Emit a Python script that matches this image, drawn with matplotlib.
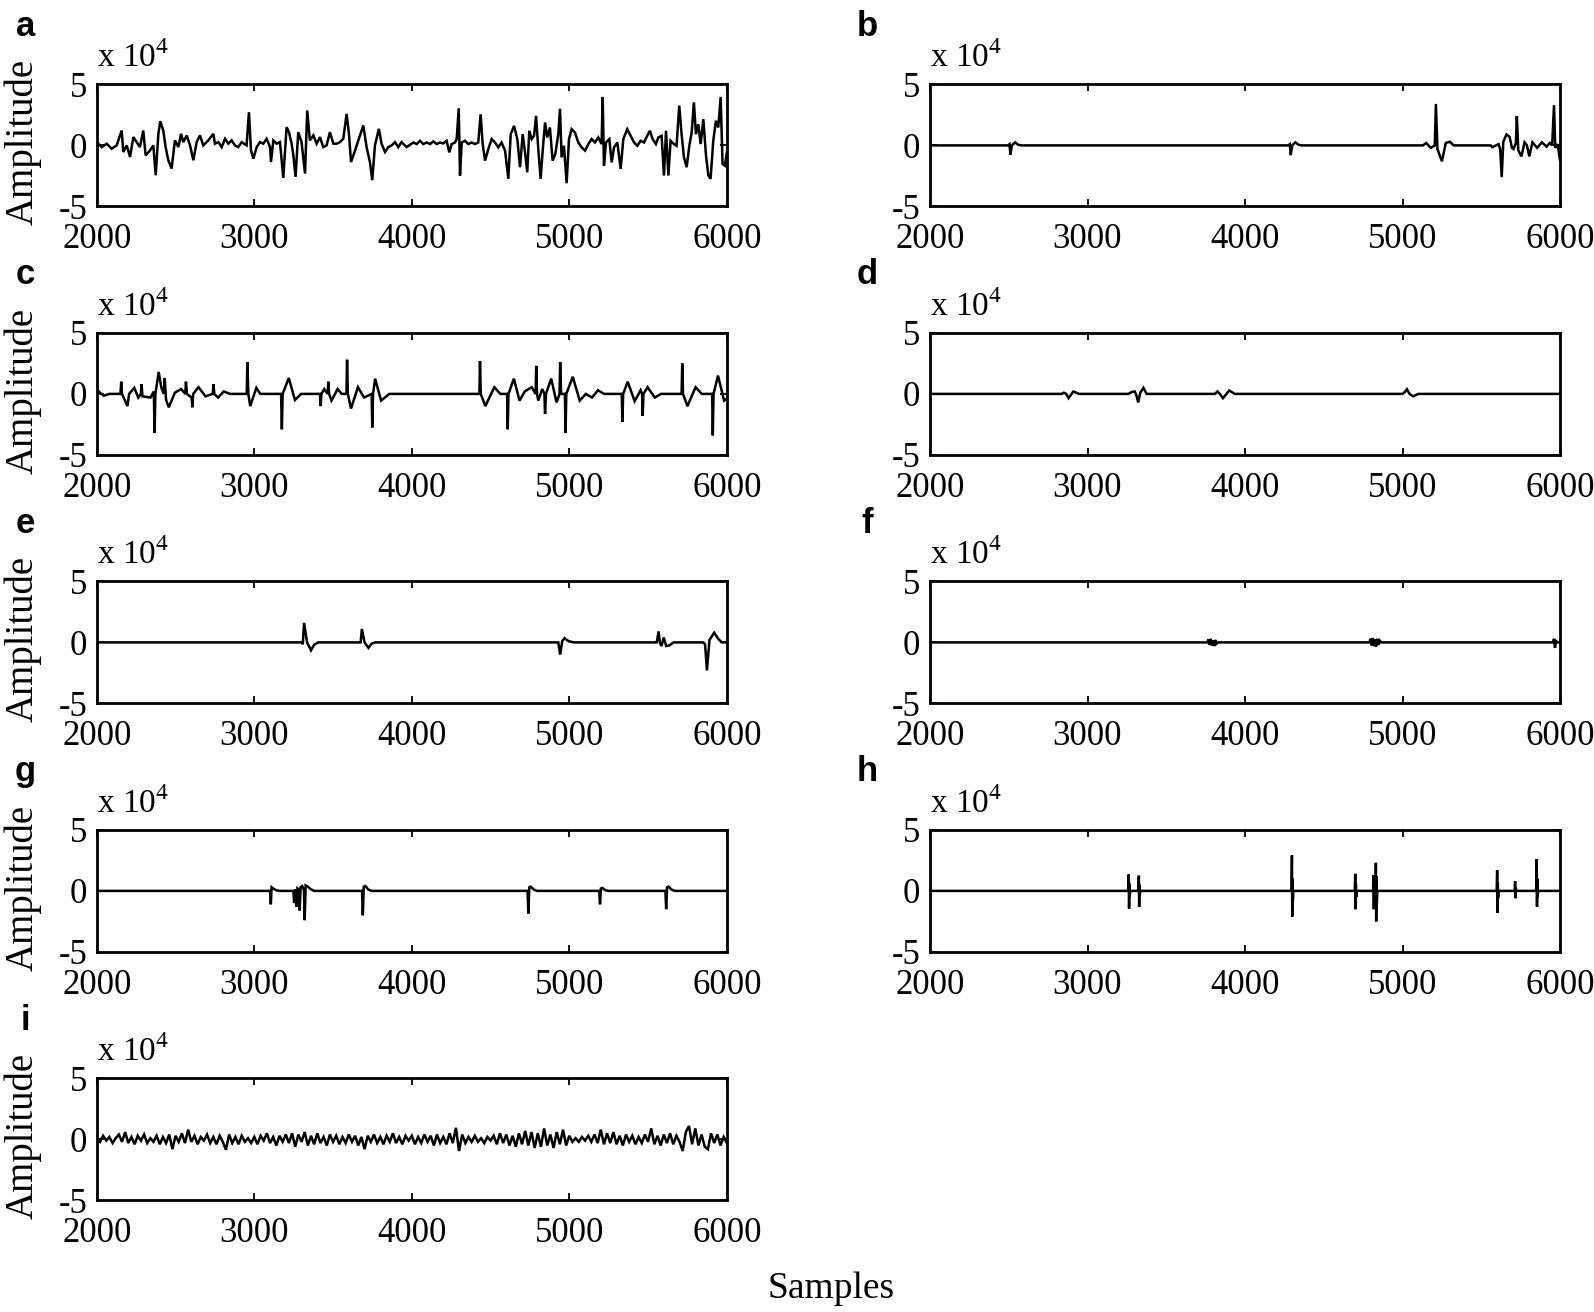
import numpy as np
import matplotlib
matplotlib.use('Agg')
import matplotlib.pyplot as plt

plt.rcParams['font.family'] = 'Liberation Serif'
plt.rcParams['mathtext.fontset'] = 'custom'
plt.rcParams['mathtext.rm'] = 'Liberation Serif'
plt.rcParams['axes.unicode_minus'] = False

# ---- data: (sample, amplitude in units of 1e4) ----
a_pts = [
    (2000, 0.27), (2031, -0.14), (2063, 0.14), (2094, -0.27), (2126, 0.0), (2158, 1.22), (2168, -0.54), (2190, 0.0),
    (2211, -0.95), (2232, 0.68), (2253, 0.27), (2274, -0.14), (2295, 1.22), (2310, -0.82), (2338, -0.41), (2359, 0.0),
    (2374, -2.45), (2391, 0.95), (2403, 1.98), (2422, 1.22), (2437, -0.14), (2454, -1.22), (2475, -1.9), (2496, 0.41),
    (2518, -0.14), (2535, 0.95), (2549, 0.27), (2571, 0.82), (2592, 0.0), (2613, -1.22), (2634, 0.27), (2655, 0.82),
    (2676, 0.0), (2708, 0.41), (2740, 0.95), (2750, 0.14), (2772, 0.27), (2793, -0.14), (2814, 0.54), (2835, 0.14),
    (2856, 0.41), (2877, 0.0), (2898, -0.14), (2920, 0.27), (2951, 0.0), (2966, 2.72), (2979, -0.41), (2994, -1.09),
    (3015, -0.14), (3036, 0.27), (3057, 0.14), (3078, 0.54), (3100, -0.14), (3106, -1.36), (3121, 0.41), (3142, 0.14),
    (3163, 0.27), (3184, -2.66), (3205, 1.5), (3220, 1.09), (3237, 0.14), (3248, -0.82), (3262, -2.58), (3279, 1.09),
    (3300, 0.27), (3322, -2.31), (3336, 2.86), (3353, 0.41), (3375, 0.82), (3396, 0.14), (3417, 0.68), (3438, -0.14),
    (3459, 0.0), (3480, 1.09), (3502, 0.14), (3523, 0.14), (3544, 0.27), (3565, 0.54), (3586, 2.58), (3601, 0.95),
    (3614, -1.36), (3629, -0.82), (3650, 0.0), (3671, 0.82), (3692, 1.63), (3713, -0.14), (3734, -1.36), (3749, -2.85),
    (3766, 0.0), (3791, 1.36), (3808, 0.14), (3830, -0.54), (3851, -0.14), (3872, 0.0), (3893, 0.27), (3914, -0.14),
    (3935, 0.27), (3967, -0.14), (3999, 0.14), (4010, 0.24), (4031, 0.11), (4052, 0.38), (4073, 0.11), (4094, 0.24),
    (4116, 0.11), (4137, 0.33), (4158, 0.11), (4179, 0.24), (4200, 0.16), (4221, 0.38), (4238, -0.57), (4253, 0.11),
    (4274, 0.24), (4285, 0.52), (4298, 3.04), (4306, -2.47), (4317, 0.24), (4338, 0.38), (4359, 0.11), (4380, 0.24),
    (4401, 0.11), (4422, 0.24), (4437, 2.55), (4450, 0.11), (4465, -1.25), (4486, -0.3), (4507, 0.52), (4528, 0.24),
    (4549, -0.16), (4570, 0.24), (4592, -0.43), (4613, -2.74), (4628, 0.92), (4649, 1.6), (4670, 0.52), (4687, -1.79),
    (4704, 0.92), (4719, -0.57), (4733, -2.2), (4746, 1.2), (4761, 0.52), (4776, 0.79), (4789, 2.42), (4803, -0.3),
    (4818, -2.74), (4831, -0.43), (4846, 1.88), (4860, 0.65), (4877, 1.47), (4894, -1.25), (4911, -0.71), (4930, 0.92),
    (4941, 3.0), (4951, -0.98), (4966, -0.03), (4983, -3.1), (4998, 0.52), (5015, 1.33), (5036, 1.06), (5057, 0.24),
    (5078, -0.16), (5100, -0.43), (5121, 0.11), (5142, 0.52), (5163, 0.24), (5184, 0.65), (5205, 0.11), (5212, 3.97),
    (5220, -1.66), (5233, 0.24), (5254, 0.52), (5269, -1.39), (5284, -0.16), (5305, 0.24), (5326, -1.93), (5343, 0.52),
    (5368, 1.33), (5389, 0.79), (5411, 0.24), (5432, -0.03), (5453, 0.38), (5474, 0.24), (5495, 0.79), (5512, 1.2),
    (5529, 0.52), (5550, 0.11), (5565, 0.65), (5586, 0.79), (5601, -2.47), (5614, 1.2), (5629, -2.47), (5643, 0.38),
    (5664, 0.11), (5681, -0.03), (5698, 3.26), (5713, 0.92), (5728, -0.98), (5745, -1.79), (5762, -0.03), (5777, 1.06),
    (5791, 3.53), (5804, 0.92), (5819, 1.74), (5834, 0.11), (5851, 2.15), (5868, -0.84), (5883, -2.47), (5897, -2.74),
    (5914, 0.38), (5931, 2.02), (5946, 1.47), (5961, 3.97), (5973, -1.52), (5988, -1.66), (6000, -0.6),
]

b_pts = [
    (2000, 0), (2495, 0), (2505, 0.1), (2510, -0.75), (2520, 0), (2540, 0.25), (2560, 0.05), (2580, 0),
    (4275, 0), (4285, 0.1), (4290, -0.8), (4300, 0), (4320, 0.25), (4340, 0.05), (4360, 0),
    (5130, 0), (5150, 0.2), (5180, -0.2), (5205, 0), (5212, 3.4), (5222, -0.3), (5250, -1.3), (5275, 0.2),
    (5300, 0.3), (5325, 0), (5560, 0), (5570, -0.15), (5610, 0.1), (5620, -0.3), (5630, -2.6), (5640, 0.3),
    (5660, 0.9), (5680, 0.7), (5695, -0.2), (5705, -0.3), (5720, 0.2), (5726, 2.4), (5735, -0.4), (5755, -0.9),
    (5775, 0.25), (5790, 0.0), (5805, -0.9), (5825, 0.25), (5855, -0.2), (5885, 0.25), (5915, -0.1), (5935, 0.2),
    (5950, 0.0), (5962, 3.3), (5970, -0.2), (5985, 0.1), (6000, -1.2),
]

c_pts = [
    (2000, 0.4), (2020, 0.1), (2044, -0.15), (2080, 0.0), (2150, 0.0), (2155, 1.0), (2160, 0.0), (2195, -1.0),
    (2205, 0.0), (2238, 0.5), (2263, -0.3), (2280, 0.0), (2284, 0.8), (2290, -0.2), (2341, -0.3), (2362, 0.2),
    (2367, -3.2), (2372, 0.0), (2393, 1.8), (2410, 0.5), (2425, 0.0), (2431, 1.3), (2440, -0.5), (2457, -1.1),
    (2496, 0.1), (2535, 0.4), (2562, 0.0), (2566, 1.0), (2572, 0.0), (2602, -0.3), (2607, -1.1), (2612, 0.0),
    (2646, 0.55), (2690, -0.2), (2736, 0.0), (2741, 0.8), (2746, 0.0), (2770, -0.3), (2806, 0.2), (2845, 0.0),
    (2952, 0.0), (2956, 2.6), (2962, 0.0), (2974, -1.0), (3013, 0.5), (3038, 0.0), (3170, 0.0), (3175, -2.9),
    (3180, 0.0), (3219, 1.3), (3258, -0.5), (3297, 0.0), (3417, 0.0), (3421, -1.0), (3426, 0.0), (3444, 0.4),
    (3466, 0.0), (3470, 1.0), (3475, 0.0), (3490, -0.55), (3529, 0.4), (3555, 0.0), (3585, 0.0), (3589, 2.8),
    (3594, 0.0), (3614, -1.2), (3658, 0.55), (3697, -0.3), (3745, 0.0), (3749, -2.75), (3754, 0.0), (3767, 1.25),
    (3805, -0.55), (3857, 0.0), (4429, 0.0), (4433, 2.7), (4438, 0.0), (4467, -1.0), (4524, 0.55), (4562, 0.0),
    (4605, 0.0), (4609, -2.9), (4614, 0.0), (4648, 1.25), (4684, -0.55), (4717, 0.2), (4761, 0.55), (4786, 0.0),
    (4790, 2.3), (4795, 0.0), (4803, -0.55), (4828, 0.4), (4842, 0.0), (4846, -1.65), (4852, 0.0), (4885, 1.25),
    (4919, -0.7), (4938, 0.0), (4942, 2.6), (4948, 0.0), (4972, 0.0), (4976, -3.2), (4981, 0.0), (5022, 1.4),
    (5066, -0.55), (5105, 0.0), (5144, -0.3), (5182, 0.3), (5221, 0.0), (5333, 0.0), (5337, -2.3), (5342, 0.0),
    (5371, 1.0), (5415, -0.6), (5453, 0.3), (5462, 0.0), (5466, -1.8), (5471, 0.0), (5497, 0.55), (5543, -0.3),
    (5582, 0.0), (5713, 0.0), (5717, 2.5), (5722, 0.0), (5750, -1.0), (5802, 0.55), (5841, 0.0), (5907, 0.0),
    (5911, -3.4), (5916, 0.0), (5944, 1.5), (5983, -0.55), (6000, -0.4),
]

d_pts = [
    (2000, 0), (2835, 0), (2850, 0.1), (2865, 0.0), (2880, -0.35), (2910, 0.2), (2945, 0),
    (3260, 0), (3280, 0.15), (3300, 0.2), (3310, -0.1), (3322, -0.7), (3335, 0.1), (3355, 0.5), (3375, 0),
    (3810, 0), (3825, 0.2), (3840, 0.0), (3860, -0.35), (3900, 0.28), (3935, 0),
    (5000, 0), (5015, 0.15), (5028, 0.38), (5045, 0.0), (5067, -0.2), (5100, 0), (6000, 0),
]

e_pts = [
    (2000, 0), (3300, 0), (3308, -0.15), (3316, 1.6), (3335, 0.0), (3360, -0.65), (3380, -0.2), (3405, 0),
    (3675, 0), (3683, 1.1), (3700, 0.0), (3725, -0.45), (3745, -0.1), (3768, 0),
    (4930, 0), (4942, -1.0), (4955, 0.1), (4970, 0.35), (4995, 0.1), (5030, 0),
    (5555, 0), (5567, 0.9), (5575, 0.0), (5585, -0.3), (5600, 0.4), (5615, -0.3), (5635, -0.25), (5662, 0),
    (5850, 0), (5862, -0.15), (5874, -2.3), (5890, 0.2), (5920, 0.8), (5945, 0.3), (5968, 0.0), (6000, 0),
]

f_pts = [
    (2000, 0), (3760, 0), (3768, 0.25), (3775, -0.2), (3782, 0.3), (3790, -0.25), (3797, 0.15), (3805, -0.3),
    (3812, 0.2), (3820, -0.1), (3830, 0),
    (4790, 0), (4797, 0.3), (4804, -0.25), (4811, 0.35), (4818, -0.3), (4825, 0.25), (4832, -0.35), (4840, 0.3),
    (4847, -0.2), (4855, 0.15), (4865, 0),
    (5955, 0), (5962, 0.3), (5968, -0.45), (5975, 0.1), (5985, 0), (6000, 0),
]

g_pts = [
    (2000, 0), (3100, 0), (3105, -1.1), (3110, 0.3), (3120, 0.2), (3140, 0.05), (3160, 0),
    (3248, 0), (3253, -1.0), (3258, 0.1), (3264, 0.0), (3269, -1.3), (3274, 0.2), (3283, 0.1), (3288, -1.6),
    (3294, 0.3), (3304, 0.4), (3315, 0.1), (3320, -2.4), (3326, 0.45), (3340, 0.35), (3357, 0.15), (3380, 0),
    (3684, 0), (3689, -2.0), (3695, 0.35), (3705, 0.4), (3725, 0.1), (3745, 0),
    (4735, 0), (4740, -1.85), (4746, 0.3), (4755, 0.35), (4775, 0.1), (4795, 0),
    (5190, 0), (5195, -1.1), (5201, 0.2), (5210, 0.25), (5230, 0.05), (5250, 0),
    (5610, 0), (5615, -1.5), (5621, 0.3), (5630, 0.35), (5650, 0.1), (5670, 0), (6000, 0),
]

h_pts = [
    (2000, 0),
    (3259, 0), (3262, 1.35), (3264, -1.45), (3266, 0.6), (3268, -0.5), (3271, 0),
    (3323, 0), (3326, 1.25), (3328, -1.3), (3330, 0.5), (3332, -0.4), (3335, 0),
    (4295, 0), (4298, 2.9), (4300, -2.1), (4302, 1.0), (4304, -0.8), (4307, 0),
    (4697, 0), (4700, 1.4), (4702, -1.5), (4704, 0.6), (4706, -0.5), (4709, 0),
    (4813, 0), (4816, 1.3), (4818, -1.5), (4820, 0.5), (4823, -0.3), (4828, 0), (4831, 2.3), (4833, -2.5),
    (4835, 1.2), (4837, -1.0), (4840, 0),
    (5598, 0), (5601, 1.7), (5603, -1.8), (5605, 0.7), (5607, -0.6), (5610, 0),
    (5712, 0), (5715, 0.8), (5717, -0.6), (5719, 0.3), (5722, 0),
    (5849, 0), (5852, 2.6), (5854, -1.3), (5856, 1.0), (5858, -0.5), (5861, 0),
    (6000, 0),
]

# panel i: residual noise, one value every 20 samples from 2000 to 6000
i_step = 20
i_amp = [
    0.1, -0.2, 0.3, -0.1, 0.2, -0.3, 0.1, 0.4, -0.2, 0.6,
    -0.3, 0.2, -0.4, 0.3, -0.1, 0.4, -0.3, 0.1, -0.2, 0.3,
    -0.4, 0.2, -0.3, 0.4, -0.8, 0.3, -0.2, 0.5, -0.3, 0.8,
    -0.2, 0.3, -0.4, 0.2, -0.1, 0.4, -0.3, 0.2, -0.4, 0.3,
    -0.2, -0.85, 0.4, -0.3, 0.2, -0.4, 0.3, -0.2, 0.1, -0.3,
    0.2, -0.4, 0.3, -0.1, 0.5, -0.3, 0.2, -0.5, 0.3, -0.2,
    0.4, -0.3, 0.5, -0.6, 0.4, -0.2, 0.6, -0.5, 0.3, -0.4,
    0.5, -0.3, 0.2, -0.5, 0.4, -0.2, 0.3, -0.4, 0.2, -0.3,
    0.4, -0.2, 0.3, -0.5, 0.2, -0.8, 0.3, -0.2, 0.4, -0.3,
    0.2, -0.4, 0.3, -0.2, 0.5, -0.3, 0.2, -0.4, 0.3, -0.1,
    0.3, -0.4, 0.2, -0.3, 0.4, -0.2, 0.3, -0.5, 0.4, -0.3,
    0.2, -0.4, 0.5, -0.3, 0.95, -0.95, 0.4, -0.3, 0.2, -0.2,
    0.3, -0.2, 0.1, -0.3, 0.2, -0.1, 0.3, -0.4, 0.5, -0.3,
    0.4, -0.5, 0.3, -0.6, 0.5, -0.4, 0.7, -0.5, 0.6, -0.7,
    0.5, -0.6, 0.9, -0.5, 0.4, -0.7, 0.6, -0.4, 0.8, -0.5,
    0.3, -0.2, 0.1, -0.2, 0.2, -0.1, 0.3, -0.2, 0.4, -0.3,
    0.8, -0.4, 0.5, -0.3, 0.6, -0.4, 0.3, -0.5, 0.4, -0.2,
    0.3, -0.4, 0.2, -0.3, 0.4, -0.2, 0.9, -0.4, 0.3, -0.5,
    0.4, -0.3, 0.5, -0.4, 0.3, -0.2, -0.95, 0.6, 1.1, -0.4,
    0.9, -0.5, 0.4, -0.6, -0.8, 0.5, -0.3, 0.4, -0.5, 0.2,
    -0.3,
]
i_pts = [(2000 + i_step * k, v) for k, v in enumerate(i_amp)]

letters = ['a', 'b', 'c', 'd', 'e', 'f', 'g', 'h', 'i']
series = [a_pts, b_pts, c_pts, d_pts, e_pts, f_pts, g_pts, h_pts, i_pts]
xticks = [2000, 3000, 4000, 5000, 6000]
yticks = [-5, 0, 5]

# ---- layout (figure fractions) ----
W_PX, H_PX = 1594, 1312
fig = plt.figure(figsize=(W_PX / 100, H_PX / 100), dpi=100)
col_left = [96.8 / W_PX, 930 / W_PX]
ax_w = 630 / W_PX
ax_h = 122 / H_PX
top0 = 84.4
pitch = 248.5

for k, (lab, pts) in enumerate(zip(letters, series)):
    row, col = divmod(k, 2)
    top = top0 + pitch * row
    bottom = 1 - (top + 122) / H_PX
    ax = fig.add_axes([col_left[col], bottom, ax_w, ax_h])
    pts = np.array(pts, dtype=float)
    ax.plot(pts[:, 0], pts[:, 1], color='black', lw=1.8, solid_joinstyle='miter')

    ax.set_xlim(2000, 6000)
    ax.set_ylim(-5, 5)
    ax.set_xticks(xticks)
    ax.set_xticklabels([str(t) for t in xticks])
    ax.set_yticks(yticks)
    ax.set_yticklabels([str(t) for t in yticks])
    ax.tick_params(direction='in', top=True, right=True, length=5, width=1.3,
                   labelsize=25)
    ax.tick_params(axis='x', pad=12)
    ax.tick_params(axis='y', pad=7)
    for sp in ax.spines.values():
        sp.set_linewidth(2.0)

    ax.text(0.0, 1.14, r'x 10$^{4}$', transform=ax.transAxes, fontsize=24,
            ha='left', va='baseline')

    # panel letter
    lx = 25.4 / W_PX if col == 0 else 867 / W_PX
    fig.text(lx, 1 - (35.6 + pitch * row) / H_PX, lab, fontsize=25,
             fontweight='bold', family='Liberation Sans', ha='center', va='baseline')

    if col == 0:
        fig.text(22.5 / W_PX, bottom + ax_h / 2 + 3 / H_PX, 'Amplitude',
                 rotation=90, fontsize=28, ha='center', va='center')

fig.text(830.6 / W_PX, 1 - 1289 / H_PX, 'Samples', fontsize=27,
         ha='center', va='center')

fig.savefig('out.png', dpi=100)
